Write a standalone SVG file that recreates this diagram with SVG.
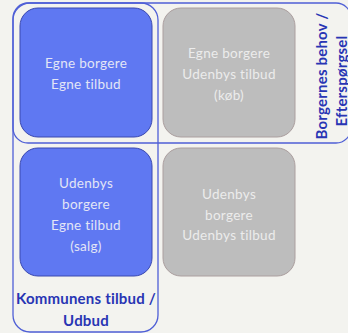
<svg xmlns="http://www.w3.org/2000/svg" width="348" height="333" viewBox="0 0 348 333">
<style>
.frame{fill:none;stroke:#4f5fd6;stroke-width:1.3}
.blue{fill:#5f78f2;stroke:#3a48b0;stroke-width:1}
.grey{fill:#bdbdbd;stroke:#ab9f9f;stroke-width:1}
.t{font-family:Lato,"Noto Sans",sans-serif;font-size:13.5px;text-anchor:middle;letter-spacing:0.3px}
.tb{fill:#e3e6f6}
.tg{fill:#ececec}
.lab{font-family:Lato,"Noto Sans",sans-serif;font-size:15px;font-weight:bold;fill:#2835b4;text-anchor:middle;letter-spacing:0.2px}
</style>
<rect width="348" height="333" fill="#f3f3ef"/>
<g id="connectors">
<rect class="frame" x="13" y="3" width="338" height="140" rx="15"/>
<rect class="frame" x="13" y="3" width="145" height="329" rx="17"/>
</g>
<g id="n1">
<rect class="blue" x="20" y="8" width="132" height="129" rx="18"/>
<text class="t tb" x="86" y="68">Egne borgere</text>
<text class="t tb" x="86" y="89">Egne tilbud</text>
</g>
<g id="n2">
<rect class="grey" x="163" y="8" width="132" height="129" rx="18"/>
<text class="t tg" x="229" y="58">Egne borgere</text>
<text class="t tg" x="229" y="79">Udenbys tilbud</text>
<text class="t tg" x="229" y="100">(køb)</text>
</g>
<g id="n3">
<rect class="blue" x="20" y="148" width="132" height="128" rx="18"/>
<text class="t tb" x="86" y="188">Udenbys</text>
<text class="t tb" x="86" y="209">borgere</text>
<text class="t tb" x="86" y="230">Egne tilbud</text>
<text class="t tb" x="86" y="251">(salg)</text>
</g>
<g id="n4">
<rect class="grey" x="163" y="148" width="132" height="128" rx="18"/>
<text class="t tg" x="229" y="199">Udenbys</text>
<text class="t tg" x="229" y="220">borgere</text>
<text class="t tg" x="229" y="240">Udenbys tilbud</text>
</g>
<g id="lab-kommune">
<text class="lab" x="86" y="304">Kommunens tilbud /</text>
<text class="lab" x="86" y="326">Udbud</text>
</g>
<g id="lab-borger">
<text class="lab" transform="translate(327,76) rotate(-90)">Borgernes behov /</text>
<text class="lab" transform="translate(347,81) rotate(-90)">Efterspørgsel</text>
</g>
</svg>
